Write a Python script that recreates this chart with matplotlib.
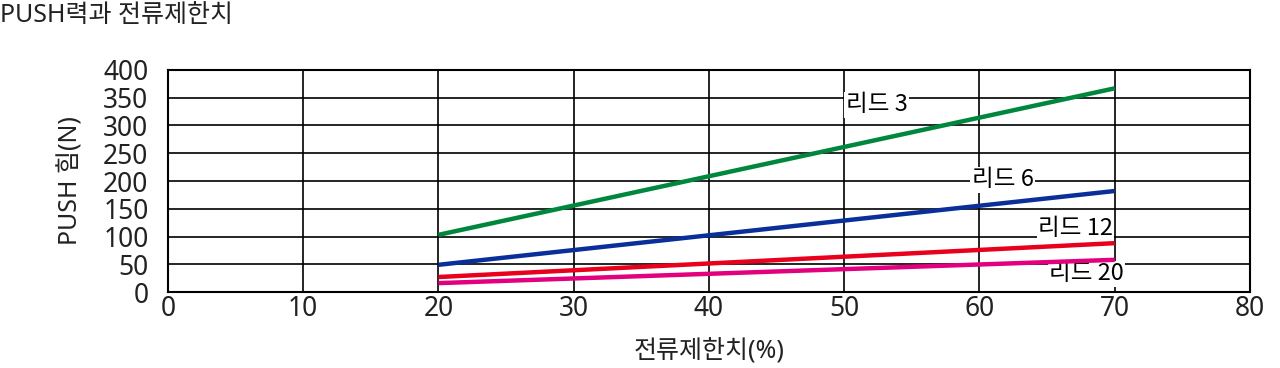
import matplotlib
matplotlib.use("Agg")
import matplotlib.pyplot as plt

plt.rcParams['font.family'] = ['Noto Sans', 'Noto Sans CJK KR', 'DejaVu Sans']

current = [20, 70]
series_names = ["리드 3", "리드 6", "리드 12", "리드 20"]
lead3 = [103, 367]
lead6 = [49, 182]
lead12 = [27, 88]
lead20 = [16, 58]
colors = ["#00873E", "#0A2F9B", "#E8001C", "#E2007E"]
label_pos = [(52.4, 337), (61.7, 202), (67.1, 115), (67.9, 33)]

xticks = [0, 10, 20, 30, 40, 50, 60, 70, 80]
yticks = [0, 50, 100, 150, 200, 250, 300, 350, 400]

fig = plt.figure(figsize=(12.8, 3.68), dpi=100)
ax = fig.add_axes([0.13125, 0.2065, 0.8453, 0.6033])
ax.set_xlim(0, 80)
ax.set_ylim(0, 400)
ax.set_xticks(xticks)
ax.set_yticks(yticks)
ax.grid(True, color='black', linewidth=1.2)
ax.set_axisbelow(True)
for s in ax.spines.values():
    s.set_linewidth(1.5)
ax.tick_params(length=0, labelsize=19, colors='#222222')
ax.tick_params(axis='x', pad=2)
ax.tick_params(axis='y', pad=14)

for vals, c in zip([lead3, lead6, lead12, lead20], colors):
    ax.plot(current, vals, color=c, linewidth=3.2, solid_capstyle='butt', zorder=3)

for name, (x, y) in zip(series_names, label_pos):
    ax.text(x, y, name, fontsize=17, fontweight='medium', ha='center', va='center',
            family=['Noto Sans CJK KR', 'DejaVu Sans'],
            bbox=dict(facecolor='white', edgecolor='none', pad=1), zorder=2.5)

ax.set_xlabel("전류제한치(%)", fontsize=18, labelpad=12, color='#222222')
ax.set_ylabel("PUSH 힘(N)", fontsize=18, labelpad=14, color='#222222')
fig.text(0.0, 0.958, "PUSH력과 전류제한치", fontsize=18, ha='left', va='center', color='#222222')

fig.savefig("out.png", dpi=100)
